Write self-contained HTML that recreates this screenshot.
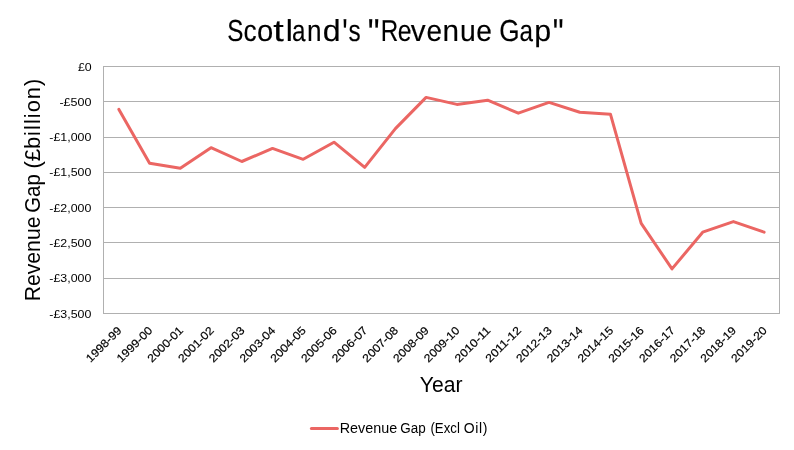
<!DOCTYPE html>
<html lang="en">
<head>
<meta charset="utf-8">
<title>Scotland's "Revenue Gap"</title>
<style>
html,body{margin:0;padding:0;background:#fff;}
body{width:794px;height:450px;overflow:hidden;}
svg{display:block;}
text{font-family:"Liberation Sans",sans-serif;fill:#000;white-space:pre;}
.t{font-size:30.3px;stroke:#000;stroke-width:0.15px;text-rendering:geometricPrecision;}
.q{font-size:39px;}
.ax{font-size:21.7px;}
.yl,.xl{font-size:11.3px;}
.xl{stroke:#000;stroke-width:0.2px;}
.lg{font-size:14px;}
</style>
</head>
<body>
<svg width="794" height="450" viewBox="0 0 794 450">
<rect x="0" y="0" width="794" height="450" fill="#fff"/>
<g stroke="#b0b0b0" stroke-width="1" fill="none" shape-rendering="crispEdges">
<line x1="103.5" y1="101.5" x2="779.5" y2="101.5"/>
<line x1="103.5" y1="137.5" x2="779.5" y2="137.5"/>
<line x1="103.5" y1="172.5" x2="779.5" y2="172.5"/>
<line x1="103.5" y1="207.5" x2="779.5" y2="207.5"/>
<line x1="103.5" y1="242.5" x2="779.5" y2="242.5"/>
<line x1="103.5" y1="278.5" x2="779.5" y2="278.5"/>
<rect x="103.5" y="66.5" width="676.0" height="247.0"/>
</g>
<text class="t"><tspan id="t0" x="227.24" y="40.7" textLength="16.18" lengthAdjust="spacingAndGlyphs">S</tspan><tspan id="t1" x="243.59" y="40.7" textLength="13.19" lengthAdjust="spacingAndGlyphs">c</tspan><tspan id="t2" x="256.90" y="40.7" textLength="16.25" lengthAdjust="spacingAndGlyphs">o</tspan><tspan id="t3" x="273.15" y="40.7" textLength="10.53" lengthAdjust="spacingAndGlyphs">t</tspan><tspan id="t4" x="285.80" y="40.7" textLength="7.14" lengthAdjust="spacingAndGlyphs">l</tspan><tspan id="t5" x="292.08" y="40.7" textLength="13.49" lengthAdjust="spacingAndGlyphs">a</tspan><tspan id="t6" x="306.91" y="40.7" textLength="14.53" lengthAdjust="spacingAndGlyphs">n</tspan><tspan id="t7" x="322.73" y="40.7" textLength="17.87" lengthAdjust="spacingAndGlyphs">d</tspan><tspan id="t8" class="q" x="342.16" y="46.4" textLength="5.42" lengthAdjust="spacingAndGlyphs">'</tspan><tspan id="t9" x="348.61" y="40.7" textLength="12.13" lengthAdjust="spacingAndGlyphs">s</tspan> <tspan id="t11" class="q" x="367.77" y="46.4" textLength="11.85" lengthAdjust="spacingAndGlyphs">&quot;</tspan><tspan id="t12" x="380.75" y="40.7" textLength="17.51" lengthAdjust="spacingAndGlyphs">R</tspan><tspan id="t13" x="397.70" y="40.7" textLength="13.73" lengthAdjust="spacingAndGlyphs">e</tspan><tspan id="t14" x="410.75" y="40.7" textLength="14.91" lengthAdjust="spacingAndGlyphs">v</tspan><tspan id="t15" x="426.58" y="40.7" textLength="15.51" lengthAdjust="spacingAndGlyphs">e</tspan><tspan id="t16" x="442.51" y="40.7" textLength="16.51" lengthAdjust="spacingAndGlyphs">n</tspan><tspan id="t17" x="459.98" y="40.7" textLength="15.78" lengthAdjust="spacingAndGlyphs">u</tspan><tspan id="t18" x="476.28" y="40.7" textLength="15.62" lengthAdjust="spacingAndGlyphs">e</tspan> <tspan id="t20" x="499.33" y="40.7" textLength="20.34" lengthAdjust="spacingAndGlyphs">G</tspan><tspan id="t21" x="519.42" y="40.7" textLength="13.49" lengthAdjust="spacingAndGlyphs">a</tspan><tspan id="t22" x="534.27" y="40.7" textLength="16.90" lengthAdjust="spacingAndGlyphs">p</tspan><tspan id="t23" class="q" x="552.65" y="46.4" textLength="10.90" lengthAdjust="spacingAndGlyphs">&quot;</tspan></text>
<text class="ax"><tspan id="ax1" x="419.79" y="391.6" textLength="42.69" lengthAdjust="spacingAndGlyphs">Year</tspan></text>
<text class="lg"><tspan id="l1" x="339.76" y="432.6" textLength="57.47" lengthAdjust="spacingAndGlyphs">Revenue</tspan> <tspan id="l2" x="400.28" y="432.6" textLength="25.42" lengthAdjust="spacingAndGlyphs">Gap</tspan> <tspan id="l3" x="430.45" y="432.6" textLength="29.43" lengthAdjust="spacingAndGlyphs">(Excl</tspan> <tspan id="l4" x="463.78" y="432.6" textLength="23.66" lengthAdjust="spacing">Oil)</tspan></text>
<text class="yl"><tspan id="y0" x="77.92" y="71" textLength="13.74" lengthAdjust="spacingAndGlyphs">£0</tspan></text>
<text class="yl"><tspan id="y1" x="59.42" y="106" textLength="32.10" lengthAdjust="spacingAndGlyphs">-£500</tspan></text>
<text class="yl"><tspan id="y2" x="49.35" y="141" textLength="42.02" lengthAdjust="spacingAndGlyphs">-£1,000</tspan></text>
<text class="yl"><tspan id="y3" x="49.35" y="176" textLength="42.02" lengthAdjust="spacingAndGlyphs">-£1,500</tspan></text>
<text class="yl"><tspan id="y4" x="49.35" y="212" textLength="42.02" lengthAdjust="spacingAndGlyphs">-£2,000</tspan></text>
<text class="yl"><tspan id="y5" x="49.35" y="247" textLength="42.02" lengthAdjust="spacingAndGlyphs">-£2,500</tspan></text>
<text class="yl"><tspan id="y6" x="49.35" y="282" textLength="42.02" lengthAdjust="spacingAndGlyphs">-£3,000</tspan></text>
<text class="yl"><tspan id="y7" x="49.35" y="318" textLength="42.02" lengthAdjust="spacingAndGlyphs">-£3,500</tspan></text>
<text class="ax" transform="translate(40.2,0) rotate(-90)"><tspan id="v1" x="-301.37" y="0" textLength="84.85" lengthAdjust="spacingAndGlyphs">Revenue</tspan> <tspan id="v2" x="-212.68" y="0" textLength="38.34" lengthAdjust="spacingAndGlyphs">Gap</tspan> <tspan id="v3" x="-168.54" y="0" textLength="31.89" lengthAdjust="spacingAndGlyphs">(£b</tspan><tspan id="v4" x="-135.89" y="0" textLength="57.11" lengthAdjust="spacing">illion)</tspan></text>
<text id="x0" class="xl" transform="translate(122.4,331.1) rotate(-45)" x="-45.0" y="0" textLength="45.0" lengthAdjust="spacingAndGlyphs">1998-99</text>
<text id="x1" class="xl" transform="translate(153.1,331.1) rotate(-45)" x="-45.0" y="0" textLength="45.0" lengthAdjust="spacingAndGlyphs">1999-00</text>
<text id="x2" class="xl" transform="translate(183.8,331.1) rotate(-45)" x="-45.0" y="0" textLength="45.0" lengthAdjust="spacingAndGlyphs">2000-01</text>
<text id="x3" class="xl" transform="translate(214.5,331.1) rotate(-45)" x="-45.0" y="0" textLength="45.0" lengthAdjust="spacingAndGlyphs">2001-02</text>
<text id="x4" class="xl" transform="translate(245.3,331.1) rotate(-45)" x="-45.0" y="0" textLength="45.0" lengthAdjust="spacingAndGlyphs">2002-03</text>
<text id="x5" class="xl" transform="translate(276.0,331.1) rotate(-45)" x="-45.0" y="0" textLength="45.0" lengthAdjust="spacingAndGlyphs">2003-04</text>
<text id="x6" class="xl" transform="translate(306.7,331.1) rotate(-45)" x="-45.0" y="0" textLength="45.0" lengthAdjust="spacingAndGlyphs">2004-05</text>
<text id="x7" class="xl" transform="translate(337.5,331.1) rotate(-45)" x="-45.0" y="0" textLength="45.0" lengthAdjust="spacingAndGlyphs">2005-06</text>
<text id="x8" class="xl" transform="translate(368.2,331.1) rotate(-45)" x="-45.0" y="0" textLength="45.0" lengthAdjust="spacingAndGlyphs">2006-07</text>
<text id="x9" class="xl" transform="translate(398.9,331.1) rotate(-45)" x="-45.0" y="0" textLength="45.0" lengthAdjust="spacingAndGlyphs">2007-08</text>
<text id="x10" class="xl" transform="translate(429.6,331.1) rotate(-45)" x="-45.0" y="0" textLength="45.0" lengthAdjust="spacingAndGlyphs">2008-09</text>
<text id="x11" class="xl" transform="translate(460.4,331.1) rotate(-45)" x="-45.0" y="0" textLength="45.0" lengthAdjust="spacingAndGlyphs">2009-10</text>
<text id="x12" class="xl" transform="translate(491.1,331.1) rotate(-45)" x="-45.0" y="0" textLength="45.0" lengthAdjust="spacingAndGlyphs">2010-11</text>
<text id="x13" class="xl" transform="translate(521.8,331.1) rotate(-45)" x="-45.0" y="0" textLength="45.0" lengthAdjust="spacingAndGlyphs">2011-12</text>
<text id="x14" class="xl" transform="translate(552.5,331.1) rotate(-45)" x="-45.0" y="0" textLength="45.0" lengthAdjust="spacingAndGlyphs">2012-13</text>
<text id="x15" class="xl" transform="translate(583.3,331.1) rotate(-45)" x="-45.0" y="0" textLength="45.0" lengthAdjust="spacingAndGlyphs">2013-14</text>
<text id="x16" class="xl" transform="translate(614.0,331.1) rotate(-45)" x="-45.0" y="0" textLength="45.0" lengthAdjust="spacingAndGlyphs">2014-15</text>
<text id="x17" class="xl" transform="translate(644.7,331.1) rotate(-45)" x="-45.0" y="0" textLength="45.0" lengthAdjust="spacingAndGlyphs">2015-16</text>
<text id="x18" class="xl" transform="translate(675.5,331.1) rotate(-45)" x="-45.0" y="0" textLength="45.0" lengthAdjust="spacingAndGlyphs">2016-17</text>
<text id="x19" class="xl" transform="translate(706.2,331.1) rotate(-45)" x="-45.0" y="0" textLength="45.0" lengthAdjust="spacingAndGlyphs">2017-18</text>
<text id="x20" class="xl" transform="translate(736.9,331.1) rotate(-45)" x="-45.0" y="0" textLength="45.0" lengthAdjust="spacingAndGlyphs">2018-19</text>
<text id="x21" class="xl" transform="translate(767.6,331.1) rotate(-45)" x="-45.0" y="0" textLength="45.0" lengthAdjust="spacingAndGlyphs">2019-20</text>
<polyline points="118.9,109.4 149.6,163.3 180.3,168.3 211.0,147.7 241.8,161.5 272.5,148.4 303.2,159.3 334.0,142.2 364.7,167.4 395.4,128.6 426.1,97.4 456.9,104.4 487.6,100.2 518.3,113.2 549.0,102.4 579.8,112.2 610.5,114.3 641.2,223.3 672.0,268.9 702.7,232.2 733.4,221.6 764.1,232.2" fill="none" stroke="#eb6663" stroke-width="3" stroke-linejoin="round" stroke-linecap="round"/>
<line x1="311.4" y1="428.5" x2="337.4" y2="428.5" stroke="#eb6663" stroke-width="3" stroke-linecap="round"/>
</svg>
</body>
</html>
